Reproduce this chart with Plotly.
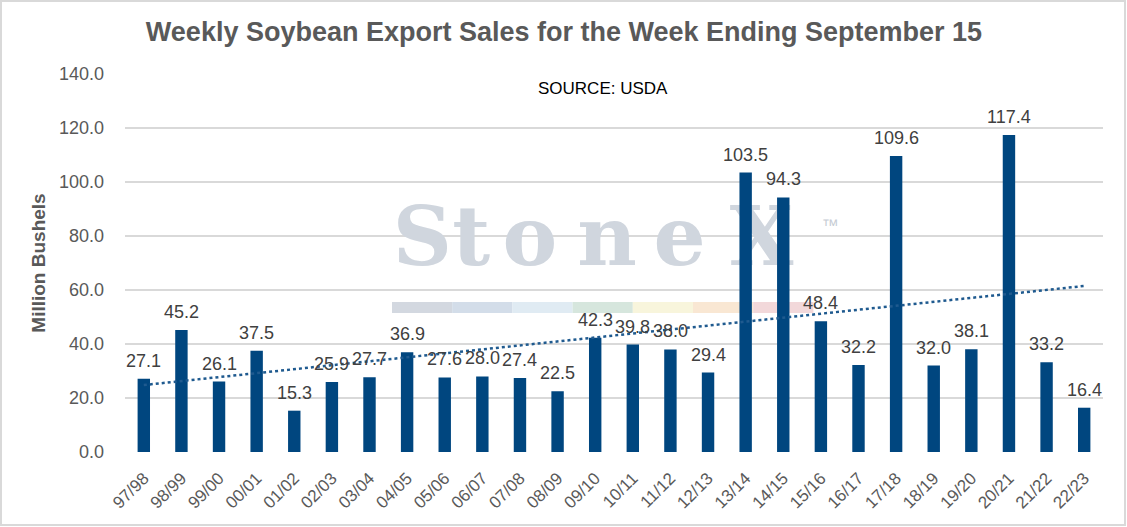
import numpy as np
import plotly.graph_objects as go

# ---- data ----
seasons = ["97/98", "98/99", "99/00", "00/01", "01/02", "02/03", "03/04", "04/05",
           "05/06", "06/07", "07/08", "08/09", "09/10", "10/11", "11/12", "12/13",
           "13/14", "14/15", "15/16", "16/17", "17/18", "18/19", "19/20", "20/21",
           "21/22", "22/23"]
sales = [27.1, 45.2, 26.1, 37.5, 15.3, 25.9, 27.7, 36.9, 27.6, 28.0, 27.4, 22.5,
         42.3, 39.8, 38.0, 29.4, 103.5, 94.3, 48.4, 32.2, 109.6, 32.0, 38.1, 117.4,
         33.2, 16.4]
y_ticks = [0, 20, 40, 60, 80, 100, 120, 140]

title_text = "Weekly Soybean Export Sales for the Week Ending September 15"
source_text = "SOURCE: USDA"
y_title = "Million Bushels"

# watermark (decoration)
wm_letters = ["S", "t", "o", "n", "e", "X"]
wm_x = [0.304, 0.354, 0.414, 0.493, 0.567, 0.651]
strip_colors = ["#d3d8e0", "#d3dde9", "#e0ebf3", "#d6e6dd", "#f8f5dc", "#f9e7d3", "#f2d8da"]

# ---- layout geometry ----
W, H = 1127, 527
ML, MR, MT, MB = 125, 24, 74, 75
PW, PH = W - ML - MR, H - MT - MB

# linear trend (least squares over season index)
idx = np.arange(len(sales))
coef = np.polyfit(idx, np.array(sales), 1)
trend = np.polyval(coef, idx)

BAR = "#00467F"
GRAY = "#595959"
FONT = "Liberation Sans, Arial"

fig = go.Figure()

# watermark letters on a hidden base subplot (drawn beneath data subplot)
fig.add_trace(go.Scatter(
    x=wm_x, y=[0.55] * len(wm_letters), mode="text", text=[f"<b>{c}</b>" for c in wm_letters],
    textfont=dict(family="DejaVu Serif", size=82, color="#d0d6de"),
    hoverinfo="skip", showlegend=False, xaxis="x", yaxis="y"))
fig.add_trace(go.Scatter(
    x=[0.721], y=[0.597], mode="text", text=["™"],
    textfont=dict(family=FONT, size=17, color="#c6ccd4"),
    hoverinfo="skip", showlegend=False, xaxis="x", yaxis="y"))

# bars
fig.add_trace(go.Bar(
    x=seasons, y=sales, marker=dict(color=BAR, line=dict(width=0)),
    showlegend=False, xaxis="x2", yaxis="y2"))

# trendline
fig.add_trace(go.Scatter(
    x=seasons, y=trend, mode="lines",
    line=dict(color="#1F5A8F", width=2.5, dash="dot"),
    showlegend=False, hoverinfo="skip", xaxis="x2", yaxis="y2"))

shapes = []
# colour strip of watermark
x0px = 392
seg = 60.2
for i, c in enumerate(strip_colors):
    a = x0px + i * seg
    shapes.append(dict(type="rect", xref="paper", yref="paper", layer="below",
                       x0=(a - ML) / PW, x1=(a + seg - ML) / PW,
                       y0=(MT + PH - 313) / PH, y1=(MT + PH - 302) / PH,
                       fillcolor=c, line=dict(width=0)))
# outer border
shapes.append(dict(type="rect", xref="paper", yref="paper", layer="above",
                   x0=(1 - ML) / PW, x1=(W - 2 - ML) / PW,
                   y0=(MT + PH - (H - 2)) / PH, y1=(MT + PH - 1) / PH,
                   line=dict(color="#d9d9d9", width=2), fillcolor="rgba(0,0,0,0)"))

annotations = [dict(text=source_text, xref="paper", yref="paper",
                    x=(603 - ML) / PW, y=(MT + PH - 89) / PH,
                    showarrow=False, xanchor="center", yanchor="middle",
                    font=dict(family=FONT, size=17, color="#000000"))]
# data labels
for s, v in zip(seasons, sales):
    annotations.append(dict(text=f"{v:.1f}", x=s, y=v, xref="x2", yref="y2",
                            showarrow=False, xanchor="center", yanchor="bottom",
                            yshift=6, font=dict(family=FONT, size=18, color="#404040")))

fig.update_layout(
    width=W, height=H,
    margin=dict(l=ML, r=MR, t=MT, b=MB),
    paper_bgcolor="white", plot_bgcolor="white",
    font=dict(family=FONT, color=GRAY),
    title=dict(text=f"<b>{title_text}</b>", x=(564 - ML) / PW, xref="paper", xanchor="center",
               y=1 - 32 / H, yanchor="middle",
               font=dict(family=FONT, size=27, color=GRAY)),
    bargap=0.67,
    xaxis=dict(range=[0, 1], visible=False, domain=[0, 1], fixedrange=True),
    yaxis=dict(range=[0, 1], visible=False, domain=[0, 1], fixedrange=True),
    xaxis2=dict(overlaying="x", anchor="y2", type="category",
                range=[-0.5, len(seasons) - 0.5],
                tickangle=-45, tickfont=dict(family=FONT, size=17, color=GRAY),
                ticklabelstandoff=12,
                showgrid=False, showline=False, ticks=""),
    yaxis2=dict(overlaying="y", anchor="x2", side="left", range=[0, 140],
                tickvals=y_ticks, tickformat=".1f",
                tickfont=dict(family=FONT, size=18, color=GRAY), ticklabelstandoff=20,
                showgrid=True, gridcolor="#d9d9d9", gridwidth=1.5,
                zeroline=False, showline=False,
                title=dict(text=f"<b>{y_title}</b>", standoff=8,
                           font=dict(family=FONT, size=19, color=GRAY))),
    shapes=shapes,
    annotations=annotations,
)

fig.write_html("out.html", config={"displayModeBar": False},
               post_script="document.body.style.margin='0px';")
